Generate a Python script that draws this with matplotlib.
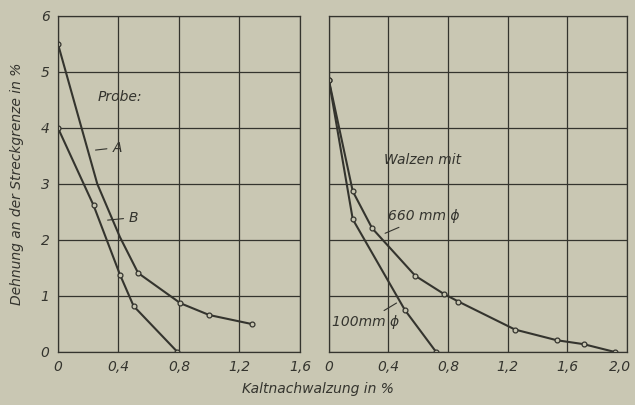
import matplotlib
matplotlib.use("Agg")
import matplotlib.pyplot as plt
from matplotlib.transforms import ScaledTranslation

# left panel: Probe A and B
a_x = [0.0, 0.26, 0.41, 0.53, 0.81, 1.00, 1.28]
a_y = [5.5, 3.0, 2.05, 1.41, 0.87, 0.66, 0.50]
b_x = [0.0, 0.235, 0.41, 0.50, 0.79]
b_y = [4.0, 2.62, 1.38, 0.82, 0.0]

# right panel: Walzen mit 660 mm / 100 mm
w660_x = [0.0, 0.16, 0.29, 0.58, 0.77, 0.87, 1.25, 1.53, 1.71, 1.92]
w660_y = [4.85, 2.87, 2.21, 1.36, 1.04, 0.90, 0.40, 0.21, 0.14, 0.0]
w100_x = [0.0, 0.16, 0.51, 0.72]
w100_y = [4.85, 2.37, 0.75, 0.0]

left_xticks = [0, 0.4, 0.8, 1.2, 1.6]
left_xlabels = ["0", "0,4", "0,8", "1,2", "1,6"]
right_xticks = [0, 0.4, 0.8, 1.2, 1.6, 2.0]
right_xlabels = ["0", "0,4", "0,8", "1,2", "1,6", "2,0"]
yticks = [0, 1, 2, 3, 4, 5, 6]

BG = "#c9c7b3"
INK = "#34342e"

fig = plt.figure(figsize=(6.35, 4.05), dpi=100, facecolor=BG)
ax1 = fig.add_axes([0.0913, 0.1309, 0.3811, 0.8296])
ax2 = fig.add_axes([0.518, 0.1309, 0.469, 0.8296])

mk = dict(color=INK, lw=1.5, marker="o", ms=3.5, mfc=BG, mec=INK, mew=0.9)

for ax, xmax, ticks, labels in [(ax1, 1.6, left_xticks, left_xlabels),
                                (ax2, 2.0, right_xticks, right_xlabels)]:
    ax.set_facecolor(BG)
    ax.set_xlim(0, xmax)
    ax.set_ylim(0, 6)
    ax.set_xticks(ticks)
    ax.set_xticklabels(labels, fontstyle="italic", fontsize=10, color=INK)
    ax.set_yticks(yticks)
    ax.grid(True, color=INK, lw=0.9)
    ax.tick_params(length=0, pad=6)
    for s in ax.spines.values():
        s.set_color(INK)
        s.set_linewidth(0.9)

ax1.set_yticklabels([str(v) for v in yticks], fontstyle="italic", fontsize=10, color=INK)
ax2.set_yticklabels([])

# last label sits on the figure edge, nudge it in a little
last = ax2.get_xticklabels()[-1]
last.set_transform(last.get_transform() + ScaledTranslation(-5 / 72, 0, fig.dpi_scale_trans))

ax1.plot(a_x, a_y, markevery=[0, 3, 4, 5, 6], **mk)
ax1.plot(b_x, b_y, **mk)
ax1.text(0.41, 4.55, "Probe:", fontstyle="italic", fontsize=10, color=INK, ha="center", va="center")
ax1.annotate("A", xy=(0.23, 3.6), xytext=(0.36, 3.65), fontstyle="italic", fontsize=10, color=INK,
             va="center", arrowprops=dict(arrowstyle="-", color=INK, lw=0.8))
ax1.annotate("B", xy=(0.31, 2.35), xytext=(0.47, 2.4), fontstyle="italic", fontsize=10, color=INK,
             va="center", arrowprops=dict(arrowstyle="-", color=INK, lw=0.8))
ax1.set_ylabel("Dehnung an der Streckgrenze in %", fontstyle="italic", fontsize=10, color=INK, labelpad=12)

ax2.plot(w660_x, w660_y, **mk)
ax2.plot(w100_x, w100_y, **mk)
ax2.text(0.63, 3.43, "Walzen mit", fontstyle="italic", fontsize=10, color=INK, ha="center", va="center")
ax2.annotate("660 mm ϕ", xy=(0.36, 2.1), xytext=(0.4, 2.42), fontstyle="italic", fontsize=10, color=INK,
             va="center", arrowprops=dict(arrowstyle="-", color=INK, lw=0.8))
ax2.annotate("100mm ϕ", xy=(0.47, 0.9), xytext=(0.02, 0.54), fontstyle="italic", fontsize=10, color=INK,
             va="center", arrowprops=dict(arrowstyle="-", color=INK, lw=0.8))

fig.text(0.5, 0.03, "Kaltnachwalzung in %", fontstyle="italic", fontsize=10, color=INK, ha="center")

fig.savefig("out.png", dpi=100, facecolor=BG)
